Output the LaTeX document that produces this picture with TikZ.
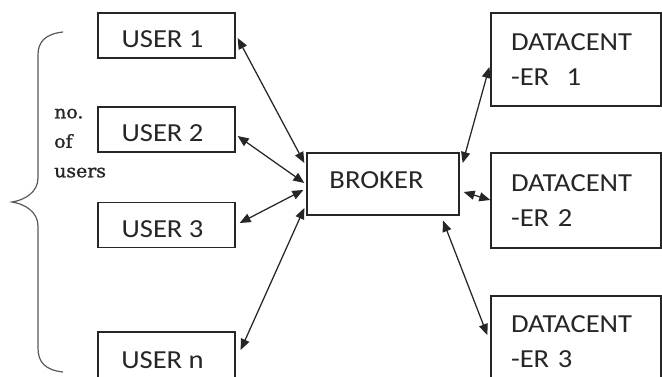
\documentclass[tikz,border=0pt]{standalone}
\usepackage{fontspec}
\setmainfont{Carlito}
\newfontfamily\boxfont[FakeStretch=1.1]{Carlito}
\newfontfamily\serffont[FakeStretch=1.05,FakeBold=1.2]{DejaVu Serif}
\usetikzlibrary{arrows.meta,calc}
\tikzset{
  box/.style={draw=black!85, line width=1.3pt, inner sep=0pt, text=black!85,
    font=\boxfont\fontsize{26}{35}\selectfont, minimum width=137pt, minimum height=45pt},
  usr/.style={box, text height=25pt, text depth=0pt},
  dc/.style={box, minimum width=170pt, align=left, text width=130pt},
  link/.style={line width=1.25pt, draw=black!85,
    {Triangle[length=11pt,width=9pt]}-{Triangle[length=11pt,width=9pt]}},
  bracestyle/.style={draw=black!65, line width=1.2pt},
  lblstyle/.style={anchor=north west, inner sep=0pt, align=left, text=black!85,
    font=\serffont\fontsize{18}{29.5}\selectfont}
}
\begin{document}
\begin{tikzpicture}[x=1pt,y=-1pt]
\useasboundingbox (0,0) rectangle (662,377);
\clip (0,0) rectangle (662,377);
\fill[white] (0,0) rectangle (662,377);
% users
\node[usr] (u1) at (166.5,35.5) {USER 1\hspace*{8pt}};
\node[usr] (u2) at (166.5,129.5) {USER 2\hspace*{8pt}};
\node[usr] (u3) at (166.5,225) {USER 3\hspace*{8pt}};
\node[usr, minimum height=48pt] (un) at (166.5,356) {USER n\hspace*{8pt}};
% broker
\node[box, minimum width=152pt, minimum height=62pt, text height=17pt, text depth=8.5pt] (br) at (383,184) {BROKER\hspace*{13pt}};
% datacenters
\node[dc, minimum height=93pt] (d1) at (576,59.5) {DATACENT\\-ER~~1};
\node[dc, minimum height=95pt] (d2) at (576,200.5) {DATACENT\\-ER 2};
\node[dc, minimum height=92pt] (d3) at (576,342) {DATACENT\\-ER 3};
% label and brace
\node[lblstyle] (lbl) at (54,108.5) {no.\\of\\users};
\draw[bracestyle] (63,32) .. controls (45,34) and (38,42) .. (38,55) -- (38,178)
  .. controls (38,192) and (25,200) .. (12,202)
  .. controls (25,204) and (38,212) .. (38,226) -- (38,348)
  .. controls (38,362) and (45,370) .. (63,372);
% links
\draw[link] ($(u1.east)+(2,2.5)$) -- ($(br.west)+(-2,-21)$);
\draw[link] ($(u2.east)+(2,6.5)$) -- ($(br.west)+(-2,-1)$);
\draw[link] ($(u3.east)+(4,-2)$) -- ($(br.west)+(-3,6)$);
\draw[link] ($(un.east)+(5,-6)$) -- ($(br.west)+(-2,24)$);
\draw[link] ($(br.east)+(3,-21)$) -- ($(d1.west)+(-1,7.5)$);
\draw[link] ($(br.east)+(4,8)$) -- ($(d2.west)+(0,-0.5)$);
\draw[link] ($(br.south)+(60,5)$) -- ($(d3.west)+(-3,-7)$);
\end{tikzpicture}
\end{document}
